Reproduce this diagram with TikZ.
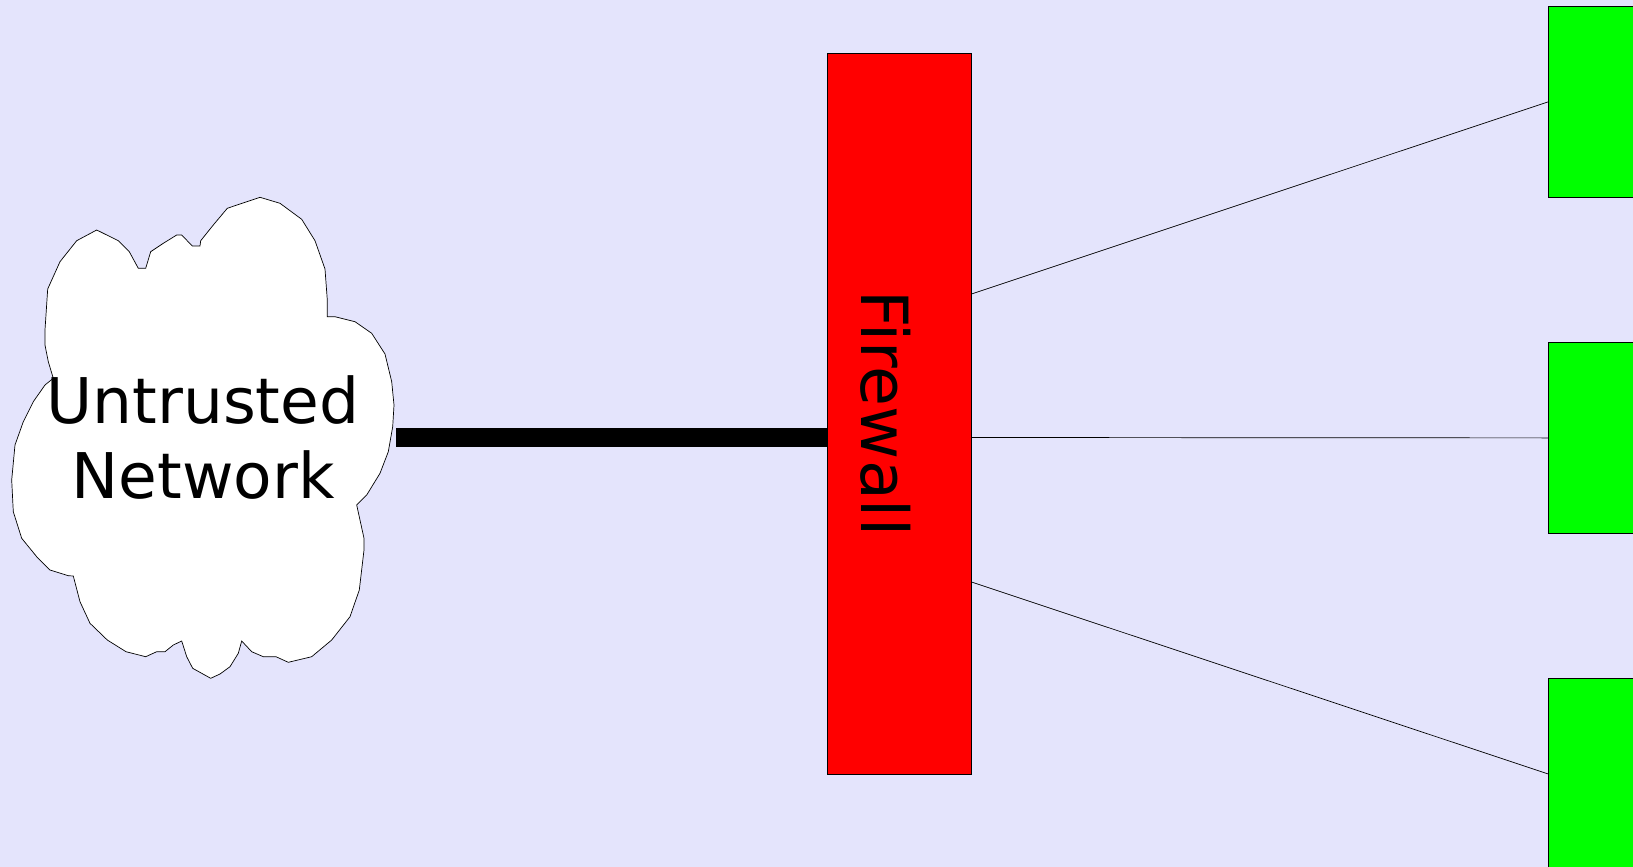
\documentclass[tikz,border=0pt]{standalone}
\usepackage{fontspec}
\setmainfont{DejaVu Sans}
\definecolor{bgcol}{HTML}{E4E4FC}
\definecolor{fwred}{HTML}{FF0000}
\definecolor{hostgreen}{HTML}{00FF00}
\tikzset{
  bigtext/.style={font=\fontsize{63pt}{75pt}\selectfont, inner sep=0pt},
  fwtext/.style={font=\fontsize{65pt}{75pt}\selectfont, inner sep=0pt},
  fwbox/.style={draw=black, line width=0.8pt, fill=fwred, inner sep=0pt, minimum width=144pt, minimum height=721pt},
  hostbox/.style={draw=black, line width=0.8pt, fill=hostgreen, inner sep=0pt, minimum width=152pt, minimum height=191pt, anchor=north west},
  thinlink/.style={draw=black, line width=0.7pt},
  thicklink/.style={draw=black, line width=19pt},
  cloudshape/.style={draw=black, line width=0.7pt, fill=white}
}
\begin{document}
\begin{tikzpicture}[x=1pt,y=-1pt]
\useasboundingbox (0,0) rectangle (1633,867);
\fill[bgcol] (0,0) rectangle (1633,867);
% cloud
\draw[cloudshape] (96.7,230) -- (118.3,240.7) -- (129.3,251.7) -- (138.3,268.3) -- (145.7,268.3) -- (150.7,251.7) -- (163.3,243.3) -- (176.7,235) -- (181.7,235) -- (192.3,246) -- (200,246) -- (200.7,240.7) -- (213.3,225) -- (227.3,208.3) -- (240,204) -- (260,197.3) -- (280,203.3) -- (301.7,219.3) -- (315,240.7) -- (325,269) -- (327.3,300) -- (327.3,316.7) -- (335,316.7) -- (355,321.7) -- (371.7,333.3) -- (385,354) -- (391.7,381.7) -- (394,405) -- (392.7,426.7) -- (388.3,451.7) -- (380,473.3) -- (366.7,495) -- (356.7,505) -- (364,538.3) -- (364,550) -- (359.3,590) -- (350,616.7) -- (331.7,640) -- (311.7,656.7) -- (288.3,662.3) -- (276,656.7) -- (263.3,656.7) -- (251.7,651.7) -- (241.7,641) -- (238.3,653.3) -- (230,666.7) -- (220,674) -- (210.7,678.3) -- (192.7,668.3) -- (186.7,656.7) -- (181.7,641) -- (173.3,645) -- (165,651.7) -- (156.7,651.7) -- (145.7,656.7) -- (126,651.7) -- (107.3,640) -- (90,623.3) -- (80,601.7) -- (73.3,576) -- (68.3,575.7) -- (50,570) -- (36.7,556.7) -- (21.7,538.3) -- (13.3,511.7) -- (11.7,480) -- (15,445) -- (23.3,421.7) -- (33.3,401.7) -- (45,385) -- (53.3,378.3) -- (48.3,361.7) -- (45,345) -- (45,330) -- (47.7,289) -- (60,261.7) -- (76.7,240.7) -- cycle;
\node[bigtext, align=center] (untrusted) at (203,438) {Untrusted\\Network};
\coordinate (cloudR) at (396,437.5);
% firewall
\node[fwbox] (fw) at (899,413.5) {};
\node[fwtext, rotate=-90, anchor=base] (fwlabel) at (861,413.5) {Firewall};
% hosts
\node[hostbox] (h1) at (1548,6) {};
\node[hostbox] (h2) at (1548,342) {};
\node[hostbox] (h3) at (1548,678) {};
% links
\draw[thicklink] (cloudR) -- ([yshift=-24pt]fw.west);
\draw[thinlink] ([yshift=119.5pt]fw.east) -- (h1.west);
\draw[thinlink] ([yshift=-24pt]fw.east) -- (h2.west);
\draw[thinlink] ([yshift=-168.5pt]fw.east) -- (h3.west);
\end{tikzpicture}
\end{document}
